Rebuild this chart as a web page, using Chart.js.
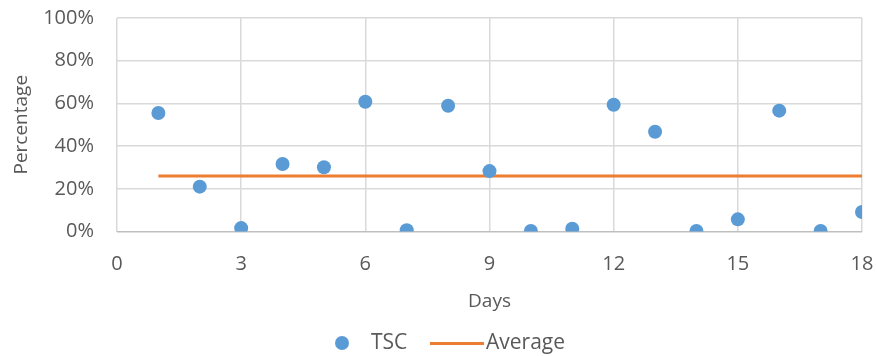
<!DOCTYPE html>
<html>
<head>
<meta charset="utf-8">
<script src="https://cdn.jsdelivr.net/npm/chart.js@4"></script>
<style>
  body { margin: 0; background: #fff; }
  #wrap { position: relative; width: 877px; height: 356px; }
  #legend { position: absolute; top: 329px; left: 0; width: 877px; height: 28px;
            font: 21px "Open Sans", sans-serif; color: #595959; }
  #legend span { position: absolute; }
  .dot { width: 14px; height: 14px; border-radius: 50%; background: #5B9BD5; top: 7px; }
  .line { height: 3px; background: #ED7D31; top: 13px; }
</style>
</head>
<body>
<div id="wrap">
  <canvas id="chart" width="877" height="356"></canvas>
  <div id="legend">
    <span class="dot" style="left:335px"></span>
    <span style="left:371px; top:-2px">TSC</span>
    <span class="line" style="left:430px; width:54px"></span>
    <span style="left:486px; top:-2px">Average</span>
  </div>
</div>
<script>
// Days and TSC readings (fraction of 1)
const days = [1, 2, 3, 4, 5, 6, 7, 8, 9, 10, 11, 12, 13, 14, 15, 16, 17, 18];
const tsc = [0.555, 0.21, 0.016, 0.316, 0.301, 0.608, 0.006, 0.589, 0.283, 0.002,
             0.013, 0.594, 0.467, 0.002, 0.057, 0.566, 0.002, 0.091];
const averageValue = 0.26;
const xTicks = [0, 3, 6, 9, 12, 15, 18];

const textColor = '#595959';
const font = { family: 'Open Sans', size: 20 };
const titleFont = { family: 'Open Sans', size: 19 };

// drop the automatic label padding so the layout padding decides the plot box
function noPad(s) {
    s.paddingTop = 0; s.paddingBottom = 0; s.paddingLeft = 0; s.paddingRight = 0;
}

new Chart(document.getElementById('chart'), {
    type: 'scatter',
    data: {
        datasets: [
            {
                label: 'TSC',
                data: days.map((d, i) => ({ x: d, y: tsc[i] })),
                backgroundColor: '#5B9BD5',
                borderWidth: 0,
                pointRadius: 7,
                pointHoverRadius: 7
            },
            {
                label: 'Average',
                type: 'line',
                data: [
                    { x: days[0], y: averageValue },
                    { x: days[days.length - 1], y: averageValue }
                ],
                borderColor: '#ED7D31',
                borderWidth: 3,
                pointRadius: 0,
                fill: false
            }
        ]
    },
    options: {
        responsive: false,
        animation: false,
        layout: { padding: { left: 0, right: 15, top: 18, bottom: 36 } },
        plugins: { legend: { display: false }, tooltip: { enabled: false } },
        scales: {
            x: {
                type: 'linear',
                min: 0,
                max: 18,
                afterBuildTicks: s => { s.ticks = xTicks.map(v => ({ value: v })); },
                afterFit: s => { s.height = 88.5; noPad(s); },
                ticks: { color: textColor, font, padding: 21, maxRotation: 0 },
                grid: { color: '#d9d9d9', lineWidth: 1.5, drawTicks: false },
                border: { display: false },
                title: { display: true, text: 'Days', color: textColor, font: titleFont, padding: { top: 0, bottom: 7 } }
            },
            y: {
                min: 0,
                max: 1,
                afterFit: s => { s.width = 117; noPad(s); },
                ticks: {
                    stepSize: 0.2,
                    color: textColor,
                    font,
                    padding: 23,
                    callback: v => Math.round(v * 100) + '%'
                },
                grid: {
                    color: c => (c.tick && c.tick.value === 0 ? '#bfbfbf' : '#d9d9d9'),
                    lineWidth: 1.5,
                    drawTicks: false
                },
                border: { display: false },
                title: { display: true, text: 'Percentage', color: textColor, font: titleFont, padding: { top: 10, bottom: 0 } }
            }
        }
    }
});
</script>
</body>
</html>
